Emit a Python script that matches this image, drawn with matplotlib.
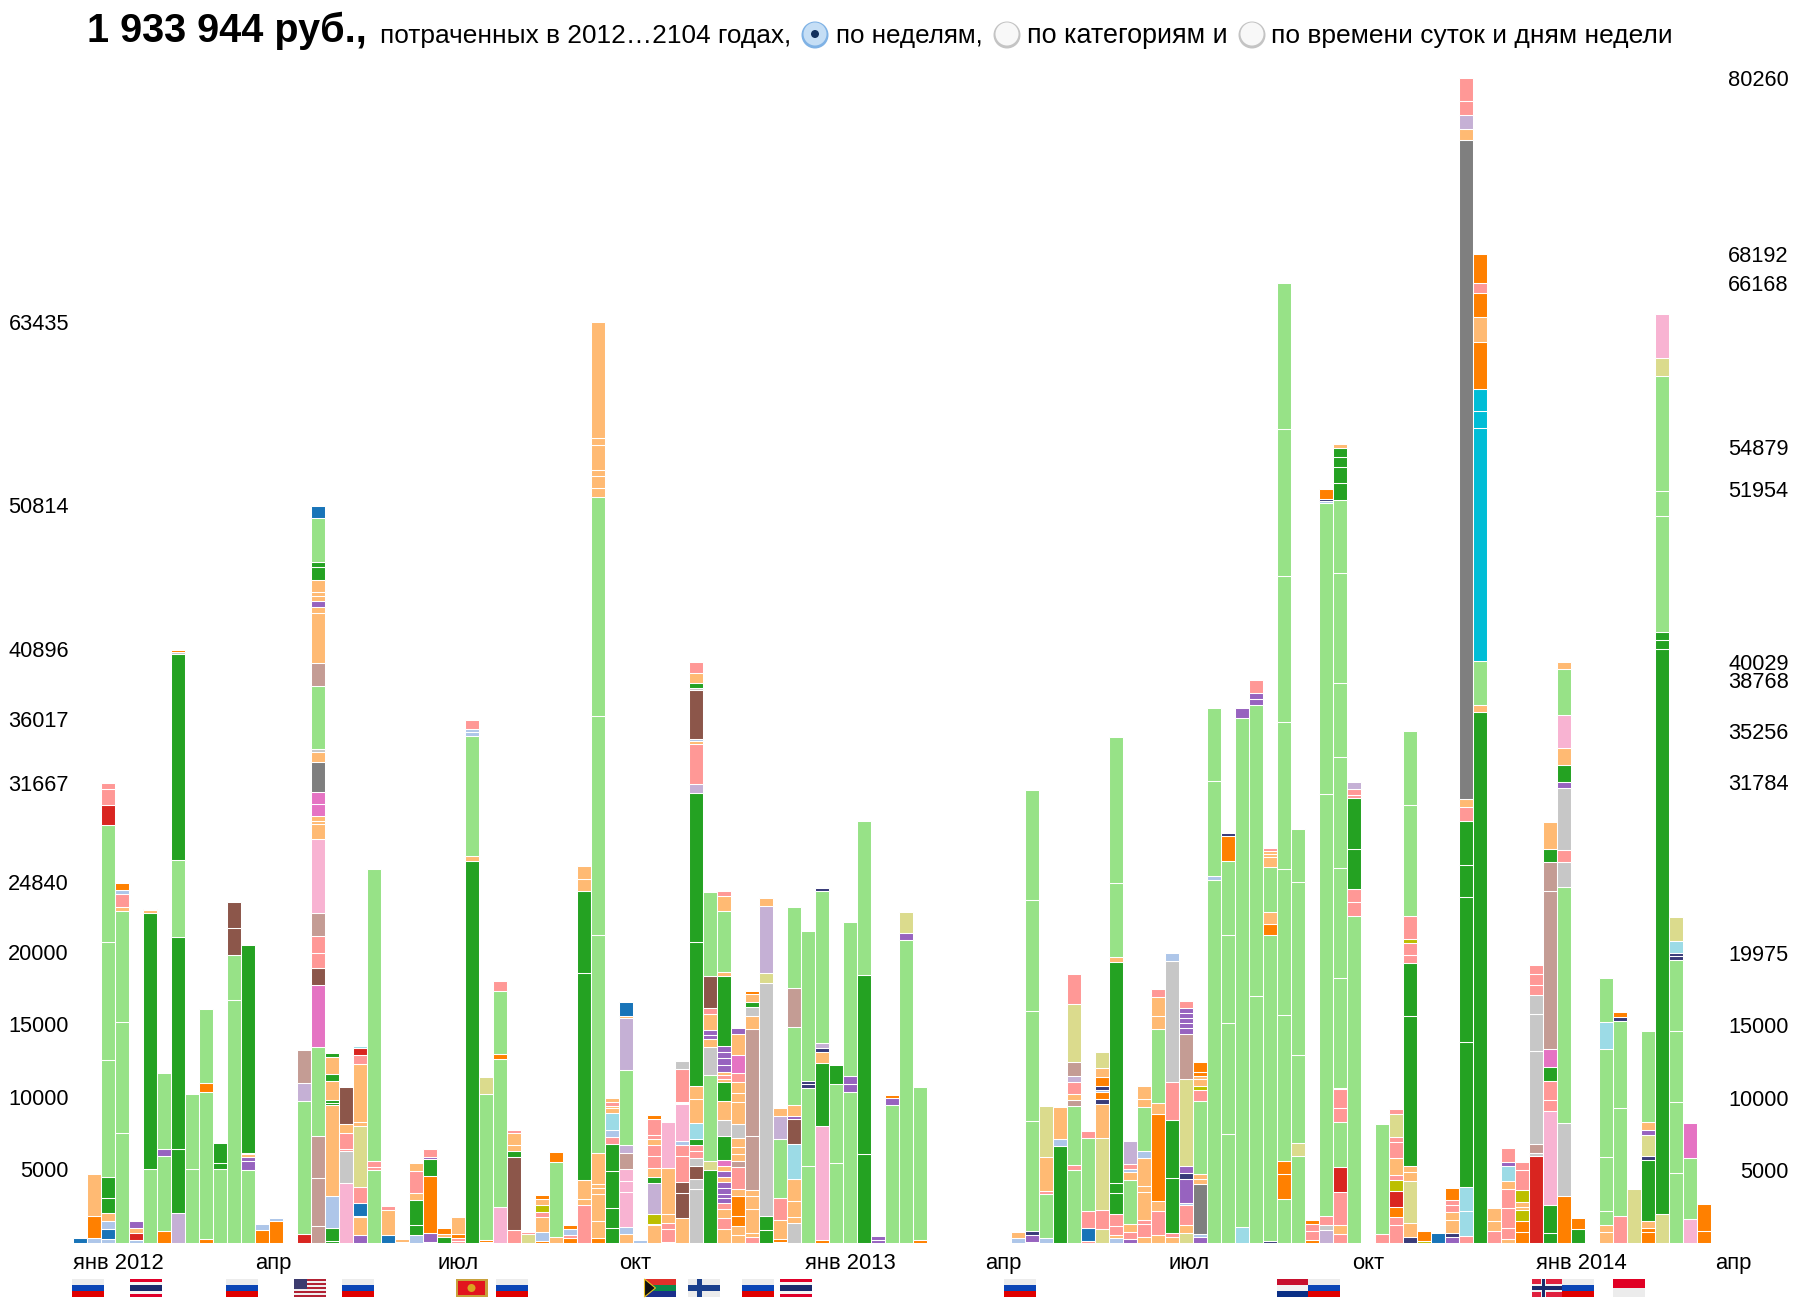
import matplotlib
matplotlib.use("Agg")
import matplotlib.pyplot as plt
from matplotlib.patches import Circle, Polygon, Rectangle
from matplotlib.transforms import ScaledTranslation

plt.rcParams['font.family'] = ['Liberation Sans', 'DejaVu Sans']

# Weeks are counted from the start of January 2012. Every week is a string of
# category letters (one per block, bottom to top) and a list of amounts in rub.
weeks_a = list(range(0, 27))
cats_a = ["b", "aol", "abalGGgggrpp", "ggglpao", "arlv", "gGlo", "ogvg", "wGGgGeo", "gg", "ogog",
          "gGG", "ggnn", "gvvloG", "oa", "oa", "l", "rgwt", "tttgmnpptklllmmylegtllvlllGGgb",
          "GGalGGlGlG", "keppln", "vlubpzllprq", "gppg", "blp", "ol", "aGGlpl", "lvoGvp", "Glo"]
vals_a = [[350], [330, 1550, 2900],
          [260, 700, 560, 560, 1020, 1420, 8100, 8100, 8100, 1350, 1100, 400],
          [7600, 7650, 7600, 310, 900, 250, 530], [210, 500, 340, 450], [5120, 17640, 170, 120],
          [820, 5180, 470, 5220], [2060, 4450, 14580, 5300, 14220, 90, 200], [5120, 5150],
          [300, 10130, 590, 5120], [5120, 410, 1330], [16730, 3150, 1800, 1790],
          [5010, 620, 320, 150, 100, 14360], [910, 390], [1500, 220], [60],
          [590, 9190, 1270, 2240],
          [1150, 3360, 2830, 6150, 4270, 1180, 1030, 1180, 1590, 5120, 1030, 180, 380, 800, 800,
           2090, 710, 200, 4360, 1590, 3430, 410, 390, 390, 280, 780, 920, 300, 3100, 810],
          [150, 850, 2250, 6250, 150, 200, 1300, 530, 1170, 230], [4150, 2210, 150, 1100, 580, 2560],
          [580, 1230, 80, 900, 1100, 4200, 260, 4000, 600, 460, 180], [5030, 200, 440, 20100],
          [530, 1710, 290], [90, 180], [560, 650, 1740, 530, 1500, 500],
          [90, 620, 3890, 1180, 180, 490], [440, 200, 390]]

weeks_b = list(range(27, 61))
cats_b = ["ppol", "Glgaap", "logz", "kgogp", "pnGllp", "zp", "oalpulo", "lgo", "opao", "pllGGll",
          "olllllgggllllll", "GGGGpaqllpl", "lakkktwgwlb", "a", "louwGlpplppo", "pppllk",
          "lnnppakllpe", "eeneppGqllGGwplaneGlp", "Gzgelvvlpng", "lplpvvvvlvlmGelGlplvvvvGlglp",
          "lloolptlllelllpmlv", "pllllttleGlo", "GGezwl", "oolpgwl", "elllqnvlgtg", "ggddg",
          "okGldwgd", "ggG", "gvvg", "GGg", "vv", "gvo", "gvz", "og"]
vals_b = [[120, 200, 330, 1150], [26300, 350, 8300, 240, 240, 587], [90, 120, 10030, 1210],
          [2500, 10190, 350, 4330, 680], [910, 5010, 410, 410, 820, 210], [620, 160],
          [170, 560, 1090, 350, 430, 430, 250], [440, 5140, 720], [350, 230, 400, 260],
          [2590, 440, 1320, 14280, 5650, 800, 870],
          [350, 1150, 1880, 380, 320, 2100, 15050, 15080, 15080, 620, 830, 460, 1700, 460, 8015],
          [1030, 1410, 2530, 1880, 440, 490, 1200, 290, 150, 320, 240],
          [650, 440, 2400, 790, 790, 1110, 550, 5200, 3580, 150, 920], [200],
          [1250, 90, 650, 2150, 380, 650, 800, 800, 400, 300, 1050, 280],
          [90, 880, 440, 560, 3200, 3190],
          [1750, 1700, 730, 1800, 800, 280, 2500, 80, 70, 2250, 590],
          [3700, 680, 950, 500, 500, 450, 400, 1100, 1650, 880, 9900, 10300, 600, 2800, 170, 150,
           3400, 100, 380, 640, 800],
          [5000, 680, 5900, 1950, 500, 300, 380, 1100, 400, 2200, 5770],
          [980, 750, 600, 400, 380, 300, 380, 380, 380, 380, 380, 380, 1700, 1100, 1330, 1300, 200,
           280, 200, 470, 460, 400, 450, 4850, 250, 4200, 1050, 340],
          [560, 620, 710, 1350, 500, 1470, 470, 470, 500, 620, 910, 1530, 650, 770, 560, 1270, 1470,
           410],
          [440, 240, 1680, 880, 440, 3680, 7420, 880, 590, 380, 560, 210],
          [880, 970, 16050, 740, 4590, 570], [90, 200, 1270, 1530, 4060, 1620, 540],
          [1380, 440, 1090, 1530, 2360, 1740, 240, 710, 5420, 2650, 5570],
          [5330, 5360, 300, 150, 10390], [240, 7800, 4360, 740, 290, 350, 10480, 200],
          [5510, 5420, 1350], [10430, 560, 530, 10630], [6130, 12310, 10630], [240, 240],
          [9510, 470, 210], [20910, 470, 1410], [180, 10570]]

weeks_c = list(range(67, 92))
cats_c = ["al", "avdgggg", "agplz", "Gal", "gpgtlpwtzp", "pbpgp", "zpzldoadolz", "alppGGGlgg",
          "vplglapw", "lppllla" + "gll", "lplolgllp", "lpGGpea", "zlpavdvztvvvvvp", "vayllgpulloo",
          "gagg", "ggggod", "qgv", "ggvvp", "dgolglllp", "googggggg", "gzggg", "oppo", "wepggado",
          "plprgppdggggggGGGGl", "gppGGppw"]
vals_c = [[320, 440], [90, 440, 290, 7600, 7600, 7600, 7570], [320, 3090, 200, 2300, 3540],
          [6690, 470, 2240], [5040, 350, 4060, 410, 410, 820, 410, 1000, 3980, 2060],
          [120, 880, 1180, 5090, 420], [940, 1350, 4920, 2360, 380, 440, 120, 290, 620, 650, 1120],
          [350, 200, 650, 800, 1440, 710, 15250, 320, 5090, 10080],
          [290, 500, 500, 3060, 530, 200, 350, 1610],
          [410, 910, 290, 1910, 440, 1910, 440, 3060, 560, 880],
          [530, 1680, 710, 5950, 770, 5090, 940, 1270, 560],
          [440, 270, 3800, 3950, 2620, 8330, 560],
          [680, 530, 1380, 200, 1620, 410, 470, 6040, 3090, 380, 350, 350, 380, 350, 470],
          [380, 240, 3420, 350, 380, 5040, 710, 270, 500, 240, 240, 700],
          [25000, 290, 6570, 5040], [7540, 7600, 6100, 5070, 1770, 180], [1120, 35050, 680],
          [17050, 20030, 440, 380, 868], [150, 21050, 770, 820, 3090, 710, 200, 240, 200],
          [3030, 1740, 850, 10070, 10070, 10130, 10090, 10090, 10098],
          [6010, 910, 6040, 11930, 3620], [240, 620, 440, 270],
          [880, 350, 620, 29070, 20050, 150, 130, 700],
          [620, 650, 2270, 1710, 3090, 940, 1300, 120, 7570, 7600, 7600, 5090, 7600, 5070, 1130,
           1150, 640, 620, 280],
          [22530, 940, 910, 2770, 3500, 200, 470, 470]]

weeks_d = [93, 94, 95, 96, 97, 98, 99, 100, 101, 102, 103, 104, 105, 106, 107,
           109, 110, 111, 112, 113, 114, 115, 116]
cats_d = ["pg", "pporuplppzp", "dlzllGGppupgg", "uo", "b", "vdllppo", "pqqGGGGplylwpp",
          "Glgcccolopo", "pll", "lppplqvp", "ooullupp", "reteeeppp", "GGkppGmttGl",
          "oegepevGlkgl", "Go", "llgggqg", "pggdo", "z", "oolGdzvlg", "zGGGgggzk", "ggggddqz",
          "kgm", "oo"]
vals_d = [[620, 7570], [1210, 560, 740, 1090, 740, 380, 1120, 1150, 320, 1590, 320],
          [380, 1000, 2860, 680, 380, 10340, 3680, 560, 820, 240, 1620, 7630, 5076], [150, 700],
          [680], [380, 320, 880, 560, 500, 350, 780],
          [500, 1680, 1680, 9980, 10040, 2150, 3030, 1000, 560, 45400, 755, 965, 990, 1530],
          [36610, 440, 3050, 16070, 1190, 1470, 3290, 1720, 1660, 660, 2032], [800, 710, 910],
          [290, 770, 1330, 1350, 560, 1000, 290, 950], [740, 800, 740, 180, 380, 800, 1410, 560],
          [5980, 240, 590, 6420, 2560, 1330, 650, 770, 620],
          [680, 1940, 6510, 740, 1300, 940, 1270, 10900, 1970, 880, 1910],
          [3240, 5040, 16260, 1710, 820, 4270, 410, 1180, 1180, 2300, 3150, 460], [940, 770],
          [740, 530, 940, 3740, 7420, 1880, 3000], [1880, 7420, 5980, 290, 380], [3710],
          [740, 260, 530, 4210, 240, 1440, 350, 590, 6250],
          [1970, 38990, 600, 550, 8000, 1700, 7970, 1240, 2980],
          [4830, 4890, 4890, 4860, 290, 200, 820, 1690], [1680, 4210, 2360], [800, 1910]]

left_ticks = [63435, 50814, 40896, 36017, 31667, 24840, 20000, 15000, 10000, 5000]
right_ticks = [80260, 68192, 66168, 54879, 51954, 40029, 38768, 35256, 31784, 19975, 15000, 10000, 5000]
month_weeks = [0, 13, 26, 39.0, 52.3, 65.15, 78.25, 91.35, 104.45, 117.3]
month_labels = ['янв 2012', 'апр', 'июл', 'окт', 'янв 2013', 'апр', 'июл', 'окт', 'янв 2014', 'апр']
flag_weeks = [-0.1, 4.05, 10.9, 15.76, 19.2, 27.3, 30.2, 40.8, 43.9, 47.8, 50.5, 66.5, 86, 88.2, 104.2, 106.3, 110]
flag_codes = ['ru', 'th', 'ru', 'us', 'ru', 'me', 'ru', 'za', 'fi', 'ru', 'th', 'ru', 'py', 'ru', 'no', 'ru', 'id']

colors = {'b': '#1874b8', 'a': '#aec6e9', 'o': '#ff8000', 'l': '#ffba73', 'G': '#24a222', 'g': '#97e287',
          'r': '#d92520', 'p': '#ff9896', 'v': '#9763bf', 'w': '#c5b0d5', 'n': '#8c564a', 't': '#c49c94',
          'm': '#e573c3', 'k': '#f8b3d2', 'y': '#7f7f7f', 'e': '#c7c7c7', 'u': '#bcbf00', 'z': '#dbdb8d',
          'c': '#00bdd6', 'q': '#9cdbe6', 'd': '#393b79'}

W, H = 1805, 1313
X0, STEP, BASE, TOP = 73.3, 14.0, 1243.0, 60.0
RUB_PER_PX = 1 / 0.01451
N_WEEKS = 118

fig = plt.figure(figsize=(W / 100, H / 100), dpi=100)
ax = fig.add_axes([X0 / W, 1 - BASE / H, N_WEEKS * STEP / W, (BASE - TOP) / H])

for weeks, cats, vals in [(weeks_a, cats_a, vals_a), (weeks_b, cats_b, vals_b),
                          (weeks_c, cats_c, vals_c), (weeks_d, cats_d, vals_d)]:
    for week, letters, amounts in zip(weeks, cats, vals, strict=True):
        bottom = 0
        for letter, amount in zip(letters, amounts, strict=True):
            ax.bar(week, amount, width=1, bottom=bottom, align='edge', color=colors[letter],
                   edgecolor='white', linewidth=0.75)
            bottom += amount

for side in ax.spines.values():
    side.set_visible(False)
ax.set_yticks(left_ticks)
ax.set_yticklabels([str(v) for v in left_ticks], fontsize=15.7, color='black')
ax.tick_params(axis='y', length=0, pad=3.1)
ax.set_xticks(month_weeks)
ax.set_xticklabels(month_labels, fontsize=15.8, ha='left')
ax.tick_params(axis='x', length=0, pad=7)
ax.set_xlim(0, N_WEEKS)
ax.set_ylim(0, (BASE - TOP) * RUB_PER_PX)

ax2 = ax.twinx()
ax2.set_ylim(ax.get_ylim())
for side in ax2.spines.values():
    side.set_visible(False)
ax2.set_yticks(right_ticks)
ax2.set_yticklabels([str(v) for v in right_ticks], fontsize=15.7, ha='right')
ax2.tick_params(axis='y', length=0, pad=55 - 9.4)
ax2.set_ylim(ax.get_ylim())

# left tick labels sit a pixel higher in the original
lift = ScaledTranslation(0, 1 / 100, fig.dpi_scale_trans)
for label in ax.get_yticklabels():
    label.set_transform(label.get_transform() + lift)

# header and flags are drawn in picture pixels
ov = fig.add_axes([0, 0, 1, 1], zorder=5)
ov.set_xlim(0, W)
ov.set_ylim(H, 0)
ov.axis('off')
ov.patch.set_visible(False)

ov.text(87, 42.5, '1 933 944 руб.,', fontsize=28.5, fontweight='bold', va='baseline')
ov.text(380, 43, 'потраченных в 2012…2104 годах,', fontsize=18.9, va='baseline')
ov.text(836, 43, 'по неделям,', fontsize=18.7, va='baseline')
ov.text(1027, 43, 'по категориям и', fontsize=19.4, va='baseline')
ov.text(1271, 43, 'по времени суток и дням недели', fontsize=19, va='baseline')

for x, on in [(815, True), (1007, False), (1252, False)]:
    ov.add_patch(Circle((x, 35), 13.5, fc='#7fb2e5' if on else '#c4c4c4', ec='none'))
    ov.add_patch(Circle((x, 34), 11.5, fc='#c5def5' if on else '#f8f8f8', ec='none'))
    if on:
        ov.add_patch(Circle((x, 34), 4, fc='#12305c', ec='none'))

FLAG_W, FLAG_H = 32, 18
stripes = {'ru': ['#ececec', '#0b45b5', '#e00000'],
           'id': ['#e00024', '#ececec'],
           'py': ['#c8102e', '#f2f2f2', '#0a2f86']}


def box(x, y, fx0, fy0, fx1, fy1, color):
    ov.add_patch(Rectangle((x + fx0 * FLAG_W, y + fy0 * FLAG_H), (fx1 - fx0) * FLAG_W,
                           (fy1 - fy0) * FLAG_H, fc=color, ec='none'))


def draw_flag(x, y, code):
    if code in stripes:
        n = len(stripes[code])
        for i, c in enumerate(stripes[code]):
            box(x, y, 0, i / n, 1, (i + 1) / n, c)
    elif code == 'th':
        for fy0, fy1, c in [(0, 1, '#e0002a'), (1 / 6, 5 / 6, '#f5f5f5'), (2 / 6, 4 / 6, '#1a2a6c')]:
            box(x, y, 0, fy0, 1, fy1, c)
    elif code == 'us':
        for i in range(9):
            box(x, y, 0, i / 9, 1, (i + 1) / 9, '#b22234' if i % 2 == 0 else '#f0f0f0')
        box(x, y, 0, 0, 0.42, 5 / 9, '#3c3b6e')
    elif code == 'me':
        box(x, y, 0, 0, 1, 1, '#c8a13c')
        box(x, y, 0.07, 0.1, 0.93, 0.9, '#e2141e')
        ov.add_patch(Circle((x + FLAG_W / 2, y + FLAG_H / 2), 4, fc='#d9a520', ec='none'))
    elif code == 'za':
        box(x, y, 0, 0, 1, 0.5, '#e0302a')
        box(x, y, 0, 0.5, 1, 1, '#1a2f8c')
        box(x, y, 0, 0.36, 1, 0.64, '#0a8a4a')
        ov.add_patch(Polygon([(x, y), (x + 11, y + FLAG_H / 2), (x, y + FLAG_H)], fc='#111111', ec='#e8c020', lw=0.8))
    elif code == 'fi':
        box(x, y, 0, 0, 1, 1, '#ececec')
        box(x, y, 0, 0.36, 1, 0.64, '#1a3f8c')
        box(x, y, 0.28, 0, 0.44, 1, '#1a3f8c')
    elif code == 'no':
        box(x, y, 0, 0, 1, 1, '#e0203e')
        box(x, y, 0, 0.3, 1, 0.7, '#f2f2f2')
        box(x, y, 0.27, 0, 0.43, 1, '#f2f2f2')
        box(x, y, 0, 0.4, 1, 0.6, '#1a2a6c')
        box(x, y, 0.31, 0, 0.39, 1, '#1a2a6c')


for week, code in zip(flag_weeks, flag_codes, strict=True):
    draw_flag(X0 + week * STEP, 1279, code)

fig.savefig('out.png', dpi=100)
